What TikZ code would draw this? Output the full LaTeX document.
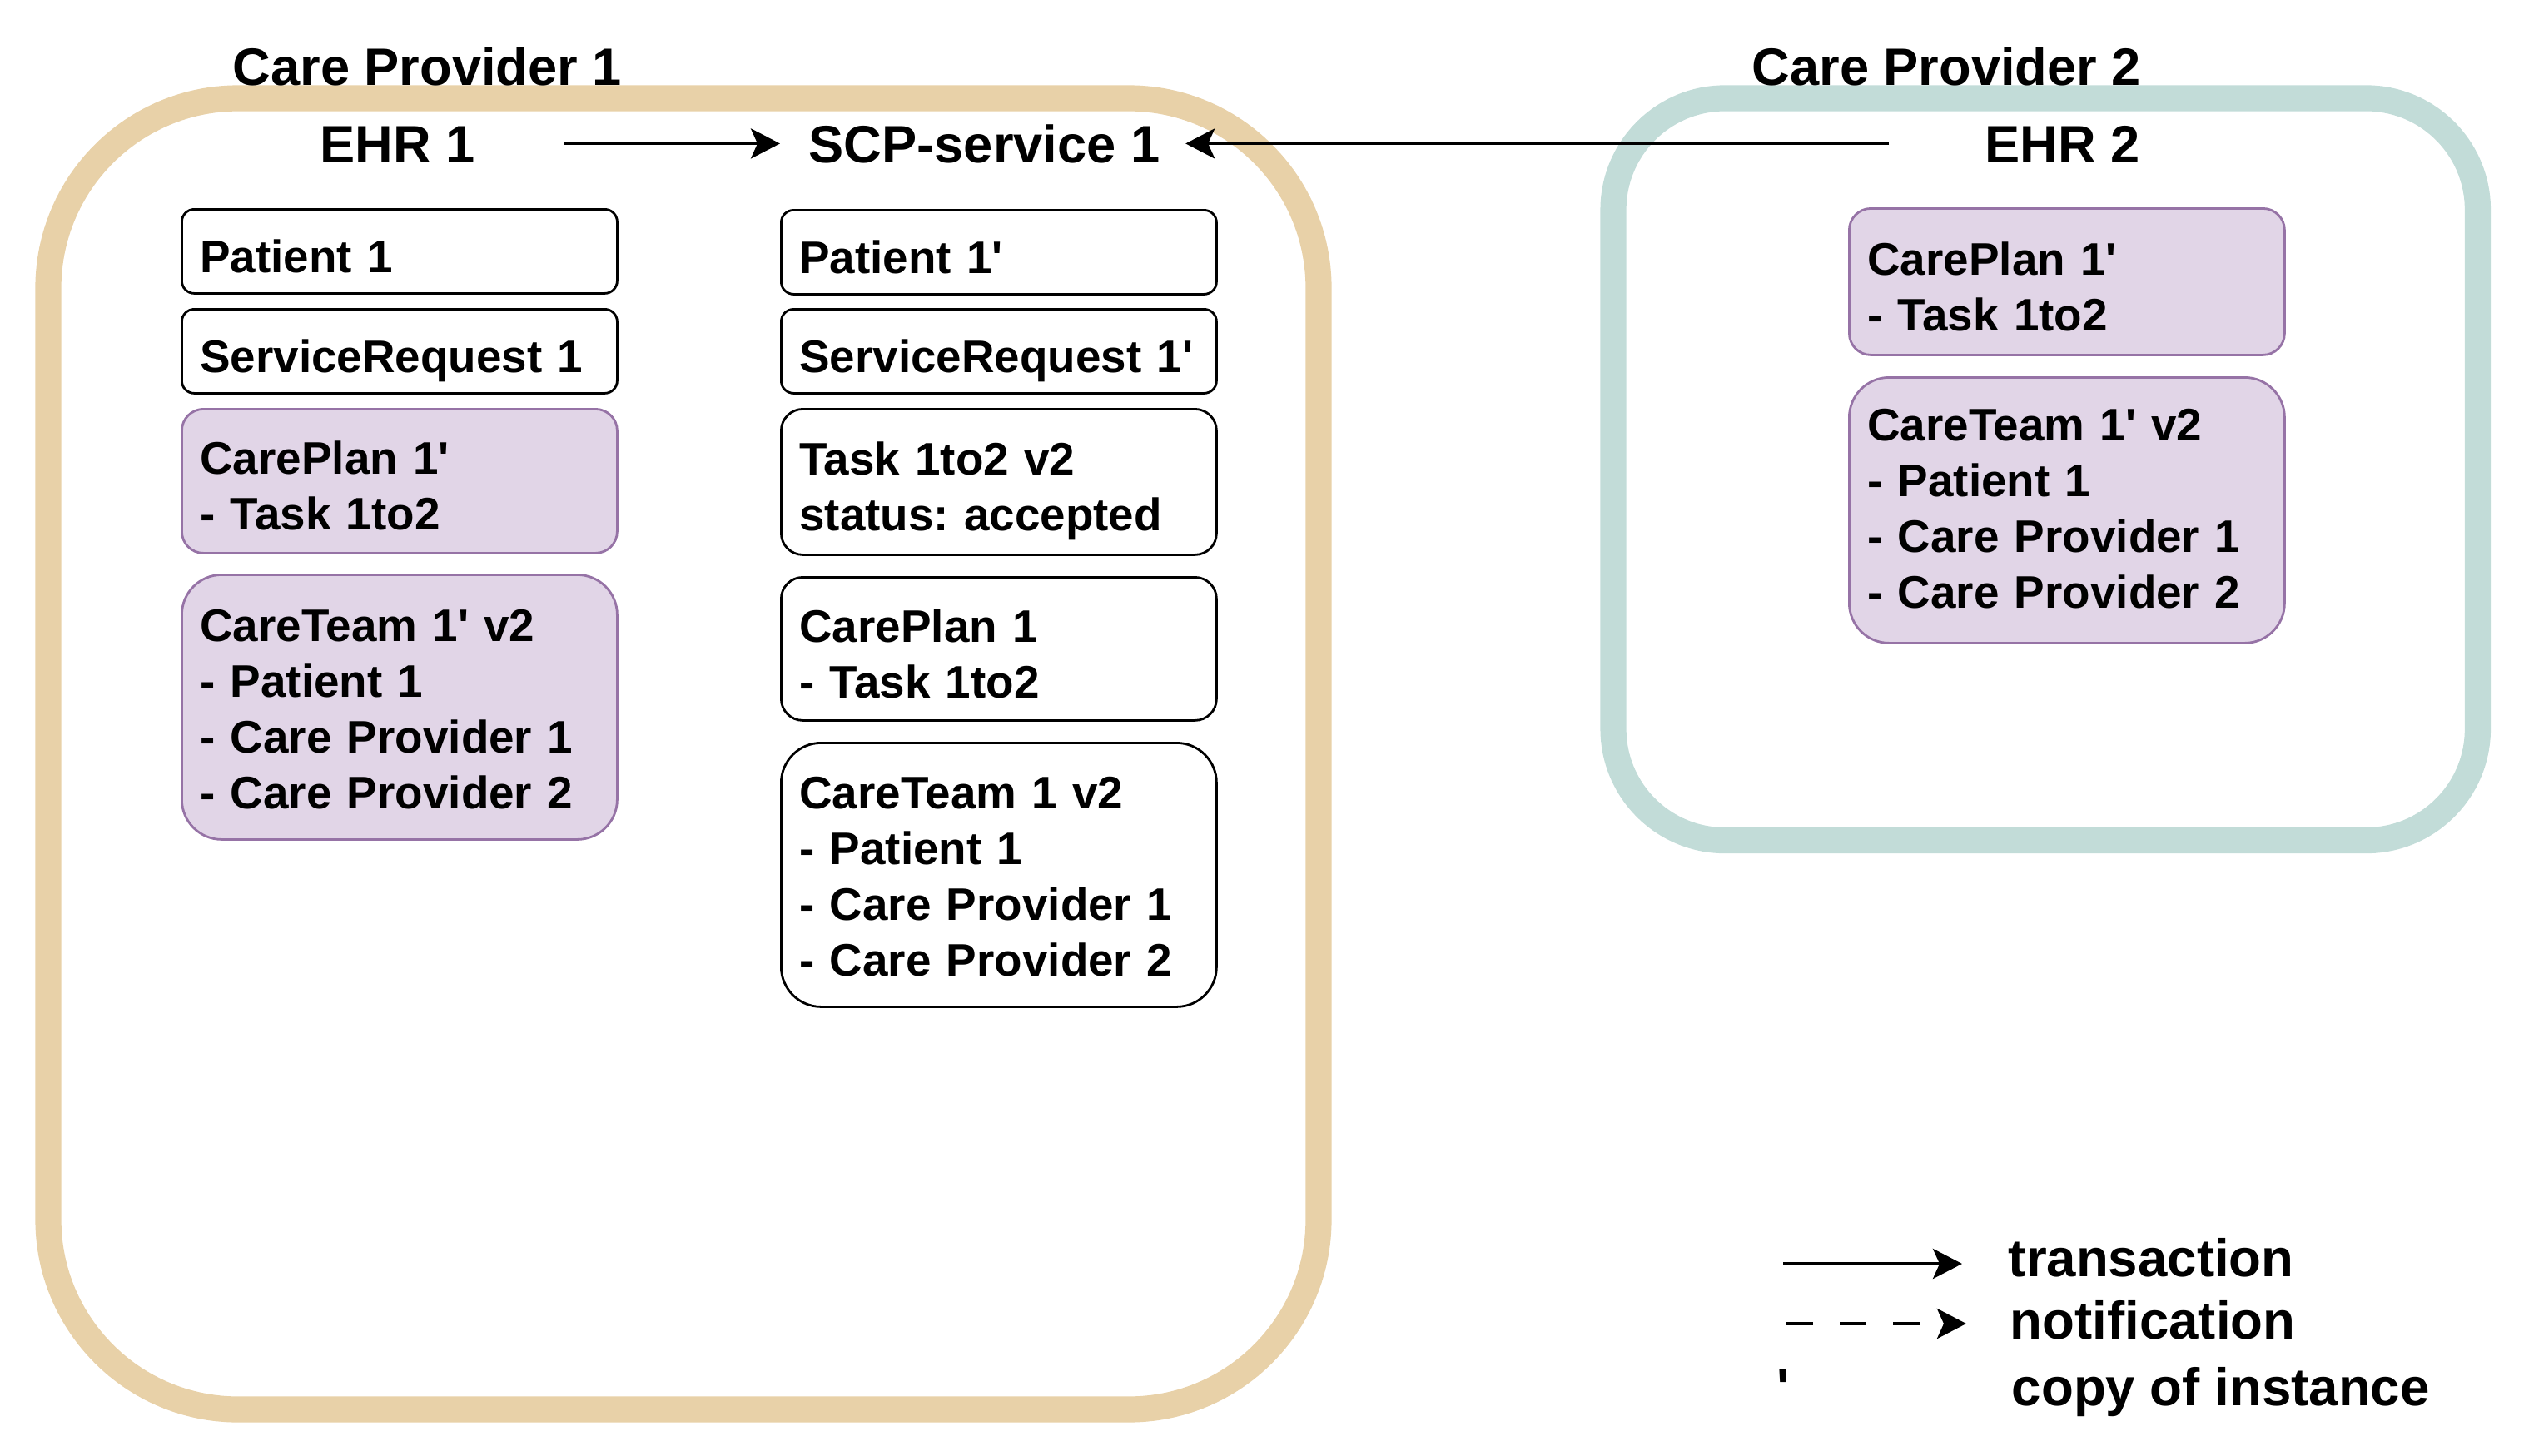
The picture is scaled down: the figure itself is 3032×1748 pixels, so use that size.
\documentclass[tikz,border=0pt]{standalone}
\usepackage{fontspec}
\setmainfont{Liberation Sans}[Ligatures=TeXOff]
\usetikzlibrary{arrows.meta}
\definecolor{cpone}{HTML}{E8D1A8}
\definecolor{cptwo}{HTML}{C2DCD8}
\definecolor{pfill}{HTML}{E1D5E7}
\definecolor{pdraw}{HTML}{9673A6}
\newcommand\boxlbl[2][3pt]{\raisebox{-#1}[\height][\depth]{\begin{tabular}{@{}l@{}}#2\end{tabular}}}
\frenchspacing
\begin{document}
\begin{tikzpicture}[x=0.25pt,y=-0.25pt,
  container/.style={line width=7.8pt, fill=none},
  obj/.style={draw=black, fill=white, line width=0.7pt, anchor=north west,
    minimum width=130.75pt, text width=119.75pt, inner xsep=5.5pt, inner ysep=0pt,
    align=left, font=\fontsize{13.7}{16.75}\selectfont\bfseries},
  pobj/.style={obj, draw=pdraw, fill=pfill},
  hdr/.style={anchor=base west, inner sep=0pt, font=\fontsize{15.8}{18}\selectfont\bfseries,
    text height=11.3pt, text depth=0pt},
  leg/.style={anchor=base west, inner sep=0pt, font=\fontsize{15.9}{19}\selectfont\bfseries},
  arr/.style={line width=1pt, -{Stealth[length=8.75pt,width=9pt,inset=2pt]}},
]
\useasboundingbox (0,0) rectangle (3032,1748);

% containers
\node[container, draw=cpone, minimum width=381.5pt, minimum height=393.75pt, rounded corners=57pt] (cp1) at (821,905.5) {};
\node[container, draw=cptwo, minimum width=259.6pt, minimum height=222.9pt, rounded corners=33.5pt] (cp2) at (2457.25,563.75) {};

% headers
\node[hdr] (cp1lbl) at (279,102) {Care Provider 1};
\node[hdr] (cp2lbl) at (2104,102) {Care Provider 2};
\node[hdr] (ehr1) at (384,195) {EHR 1};
\node[hdr] (scp) at (971,195) {SCP-service 1};
\node[hdr] (ehr2) at (2384,195) {EHR 2};

% EHR 1 column
\node[obj, minimum height=25.25pt, rounded corners=3.75pt] (pat1) at (217,250) {\boxlbl{Patient 1}};
\node[obj, minimum height=25.25pt, rounded corners=3.75pt] (sr1) at (217,370) {\boxlbl{ServiceRequest 1}};
\node[pobj, minimum height=43.25pt, rounded corners=6.5pt] (cpl1p) at (217,490) {\boxlbl{CarePlan 1'\\- Task 1to2}};
\node[pobj, minimum height=79.5pt, rounded corners=12pt] (ct1p) at (217,689) {\boxlbl[2pt]{CareTeam 1' v2\\- Patient 1\\- Care Provider 1\\- Care Provider 2}};

% SCP-service 1 column
\node[obj, minimum height=25.25pt, rounded corners=3.75pt] (pat1s) at (937,251) {\boxlbl{Patient 1'}};
\node[obj, minimum height=25.25pt, rounded corners=3.75pt] (sr1s) at (937,370) {\boxlbl{ServiceRequest 1'}};
\node[obj, minimum height=43.75pt, rounded corners=6.5pt] (task) at (937,490) {\boxlbl{Task 1to2 v2\\status: accepted}};
\node[obj, minimum height=43pt, rounded corners=6.5pt] (cpl1) at (937,692) {\boxlbl{CarePlan 1\\- Task 1to2}};
\node[obj, minimum height=79.25pt, rounded corners=12pt] (ct1) at (937,891) {\boxlbl[2pt]{CareTeam 1 v2\\- Patient 1\\- Care Provider 1\\- Care Provider 2}};

% EHR 2 column
\node[pobj, minimum height=44pt, rounded corners=6.5pt] (cpl2) at (2220,249) {\boxlbl{CarePlan 1'\\- Task 1to2}};
\node[pobj, minimum height=79.75pt, rounded corners=12pt] (ct2) at (2220,452) {\boxlbl[1pt]{CareTeam 1' v2\\- Patient 1\\- Care Provider 1\\- Care Provider 2}};

% transactions
\draw[arr, shorten <=26.3pt, shorten >=8.5pt] (ehr1.east) -- (scp.west);
\draw[arr, shorten <=28.75pt, shorten >=7.5pt] (ehr2.west) -- (scp.east);

% legend
\coordinate (lta) at (2142,1518);
\coordinate (ltb) at (2357,1518);
\coordinate (lna) at (2146,1590);
\coordinate (lnb) at (2362,1590);
\draw[arr] (lta) -- (ltb);
\draw[arr, dash pattern=on 8pt off 8pt] (lna) -- (lnb);
\node[leg] (ltrans) at (2412,1533) {transaction};
\node[leg] (lnotif) at (2414,1608) {notification};
\node[leg] (lprime) at (2134,1688) {'};
\node[leg] (lcopy) at (2416,1688) {copy of instance};
\end{tikzpicture}
\end{document}
